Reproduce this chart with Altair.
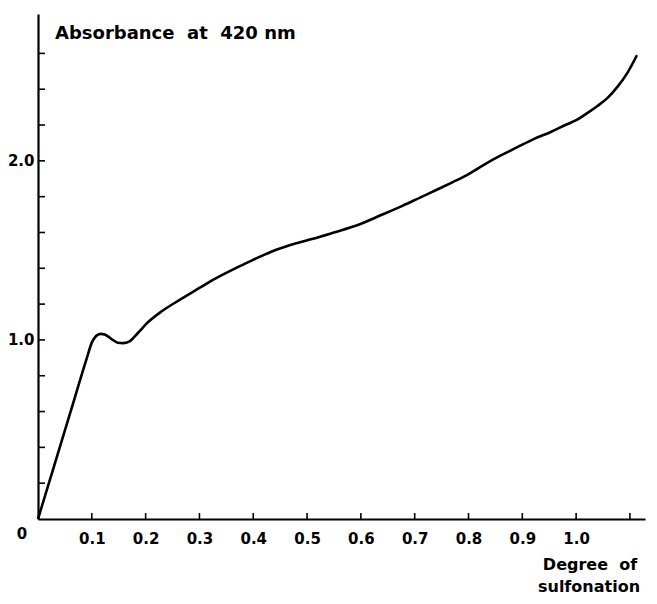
import altair as alt
import pandas as pd

# Curve
deg = [0.0, 0.03, 0.06, 0.09, 0.100, 0.108, 0.116, 0.124, 0.132, 0.140, 0.148,
       0.158, 0.170, 0.186, 0.203, 0.230, 0.264, 0.300, 0.325, 0.360, 0.388,
       0.420, 0.444, 0.480, 0.511, 0.550, 0.593, 0.640, 0.678, 0.710, 0.742,
       0.770, 0.797, 0.827, 0.860, 0.890, 0.920, 0.952, 0.980, 1.002, 1.020,
       1.039, 1.058, 1.076, 1.095, 1.113]
absb = [0.0, 0.297, 0.594, 0.891, 0.985, 1.022, 1.034, 1.030, 1.016, 0.998, 0.984,
        0.982, 0.992, 1.040, 1.095, 1.160, 1.225, 1.290, 1.335, 1.390, 1.430,
        1.475, 1.505, 1.540, 1.565, 1.600, 1.640, 1.700, 1.750, 1.795, 1.840,
        1.880, 1.920, 1.975, 2.030, 2.075, 2.120, 2.160, 2.200, 2.230, 2.265,
        2.305, 2.350, 2.410, 2.490, 2.590]

x_ticks = [0.1, 0.2, 0.3, 0.4, 0.5, 0.6, 0.7, 0.8, 0.9, 1.0, 1.1]
x_labels = [0.1, 0.2, 0.3, 0.4, 0.5, 0.6, 0.7, 0.8, 0.9, 1.0]
y_ticks = [0.2, 0.4, 0.6, 0.8, 1.0, 1.2, 1.4, 1.6, 1.8, 2.0, 2.2, 2.4, 2.6]
y_labels = [1.0, 2.0]

W, H = 607, 505
FONT = "DejaVu Sans"
NB = "\u00a0"

curve = pd.DataFrame({"deg": deg, "abs": absb})
xt = pd.DataFrame({"v": x_ticks})
yt = pd.DataFrame({"v": y_ticks})
one = pd.DataFrame({"a": [0]})

xscale = alt.Scale(domain=[0, 1.128], nice=False, zero=False)
yscale = alt.Scale(domain=[0, 2.82], nice=False, zero=False)

line = alt.Chart(curve).mark_line(color="black", strokeWidth=2.6, interpolate="monotone").encode(
    x=alt.X("deg:Q", scale=xscale, title=None,
            axis=alt.Axis(values=x_labels, format=".1f", tickSize=0, grid=False,
                          domainColor="black", domainWidth=2.2, labelFont=FONT,
                          labelFontSize=15, labelFontWeight="bold", labelColor="black",
                          labelPadding=12, labelFlush=False)),
    y=alt.Y("abs:Q", scale=yscale, title=None,
            axis=alt.Axis(values=y_labels, format=".1f", tickSize=0, grid=False,
                          domainColor="black", domainWidth=2.2, labelFont=FONT,
                          labelFontSize=15, labelFontWeight="bold", labelColor="black",
                          labelPadding=4, labelFlush=False)),
)

xtick = alt.Chart(xt).mark_rule(color="black", strokeWidth=1.6).encode(
    x=alt.X("v:Q", scale=xscale), y=alt.value(H), y2=alt.value(H - 6))
ytick = alt.Chart(yt).mark_rule(color="black", strokeWidth=1.6).encode(
    y=alt.Y("v:Q", scale=yscale), x=alt.value(0), x2=alt.value(7))

def txt(s, x, y, align="left", size=16):
    return alt.Chart(one).mark_text(text=s, font=FONT, fontSize=size, fontWeight="bold",
                                    color="black", align=align, baseline="alphabetic").encode(
        x=alt.value(x), y=alt.value(y))

title = txt(f"Absorbance{NB}{NB}at{NB}{NB}420{NB}nm", 17, 25, size=18)
zero = txt("0", -16, H + 20, align="center", size=15)
xl1 = txt(f"Degree{NB}{NB}of", 552, H + 51, align="center", size=16)
xl2 = txt("sulfonation", 551, H + 73, align="center", size=16)

chart = alt.layer(line, xtick, ytick, title, zero, xl1, xl2).properties(
    width=W, height=H,
    padding={"left": 30, "top": 6, "right": 4, "bottom": 77},
    autosize=alt.AutoSizeParams(type="none"),
).configure(background="white").configure_view(stroke=None, strokeWidth=0)

chart.save("out.html", embed_options={"renderer": "svg", "actions": False})
